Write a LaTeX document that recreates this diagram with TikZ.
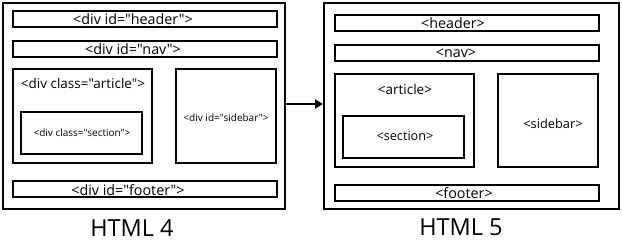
\documentclass[tikz,border=0pt]{standalone}
\usepackage{fontspec}
\setmainfont{Open Sans}[Ligatures=TeXOff]
\usetikzlibrary{arrows.meta}
\newcommand{\fs}[1]{\fontsize{#1}{#1}\selectfont}
\begin{document}
\begin{tikzpicture}[x=1pt,y=-1pt,
  outer/.style={draw, line width=1.8pt},
  inner/.style={draw, line width=1.3pt},
  lbl/.style={inner sep=0pt},
  title/.style={font=\fs{23.5}, inner sep=0pt}]
\useasboundingbox (0,0) rectangle (622,243);
% HTML 4
\draw[outer] (3,3) rectangle (285,209);
\coordinate (o4e) at (285,104);
\draw[inner] (13,11) rectangle (277,27);
\node[lbl, font=\fs{14.3}] (h4) at (133,19) {<div id="header">};
\draw[inner] (13,41) rectangle (277,57);
\node[lbl, font=\fs{14.3}] (n4) at (133,49) {<div id="nav">};
\draw[inner] (13,69) rectangle (152,163);
\node[lbl, font=\fs{13.5}] (a4) at (83,83) {<div class="article">};
\draw[inner] (21,112) rectangle (142,154);
\node[lbl, font=\fs{10}] (s4) at (82,133) {<div class="section">};
\draw[inner] (176,69) rectangle (276,163);
\node[lbl, font=\fs{10}] (sb4) at (226,118) {<div id="sidebar">};
\draw[inner] (13,181) rectangle (277,197);
\node[lbl, font=\fs{14.3}] (f4) at (128,190) {<div id="footer">};
\node[title] (t4) at (132,228) {HTML 4};
% HTML 5
\draw[outer] (324,3) rectangle (619,209);
\coordinate (o5w) at (323,104);
\draw[inner] (335,15) rectangle (599,31);
\node[lbl, font=\fs{14.3}] (h5) at (453,23) {<header>};
\draw[inner] (335,45) rectangle (599,61);
\node[lbl, font=\fs{14.3}] (n5) at (456,53) {<nav>};
\draw[inner] (335,74) rectangle (474,167);
\node[lbl, font=\fs{13.5}] (a5) at (405,89) {<article>};
\draw[inner] (343,116) rectangle (464,158);
\node[lbl, font=\fs{12.7}] (s5) at (405,136) {<section>};
\draw[inner] (498,74) rectangle (598,167);
\node[lbl, font=\fs{12.8}] (sb5) at (553,124) {<sidebar>};
\draw[inner] (335,185) rectangle (599,201);
\node[lbl, font=\fs{14.3}] (f5) at (464,193) {<footer>};
\node[title] (t5) at (461,227) {HTML 5};
% arrow
\draw[line width=2.4pt, -{Triangle[length=8pt,width=9pt]}] (o4e) -- (o5w);
\end{tikzpicture}
\end{document}
